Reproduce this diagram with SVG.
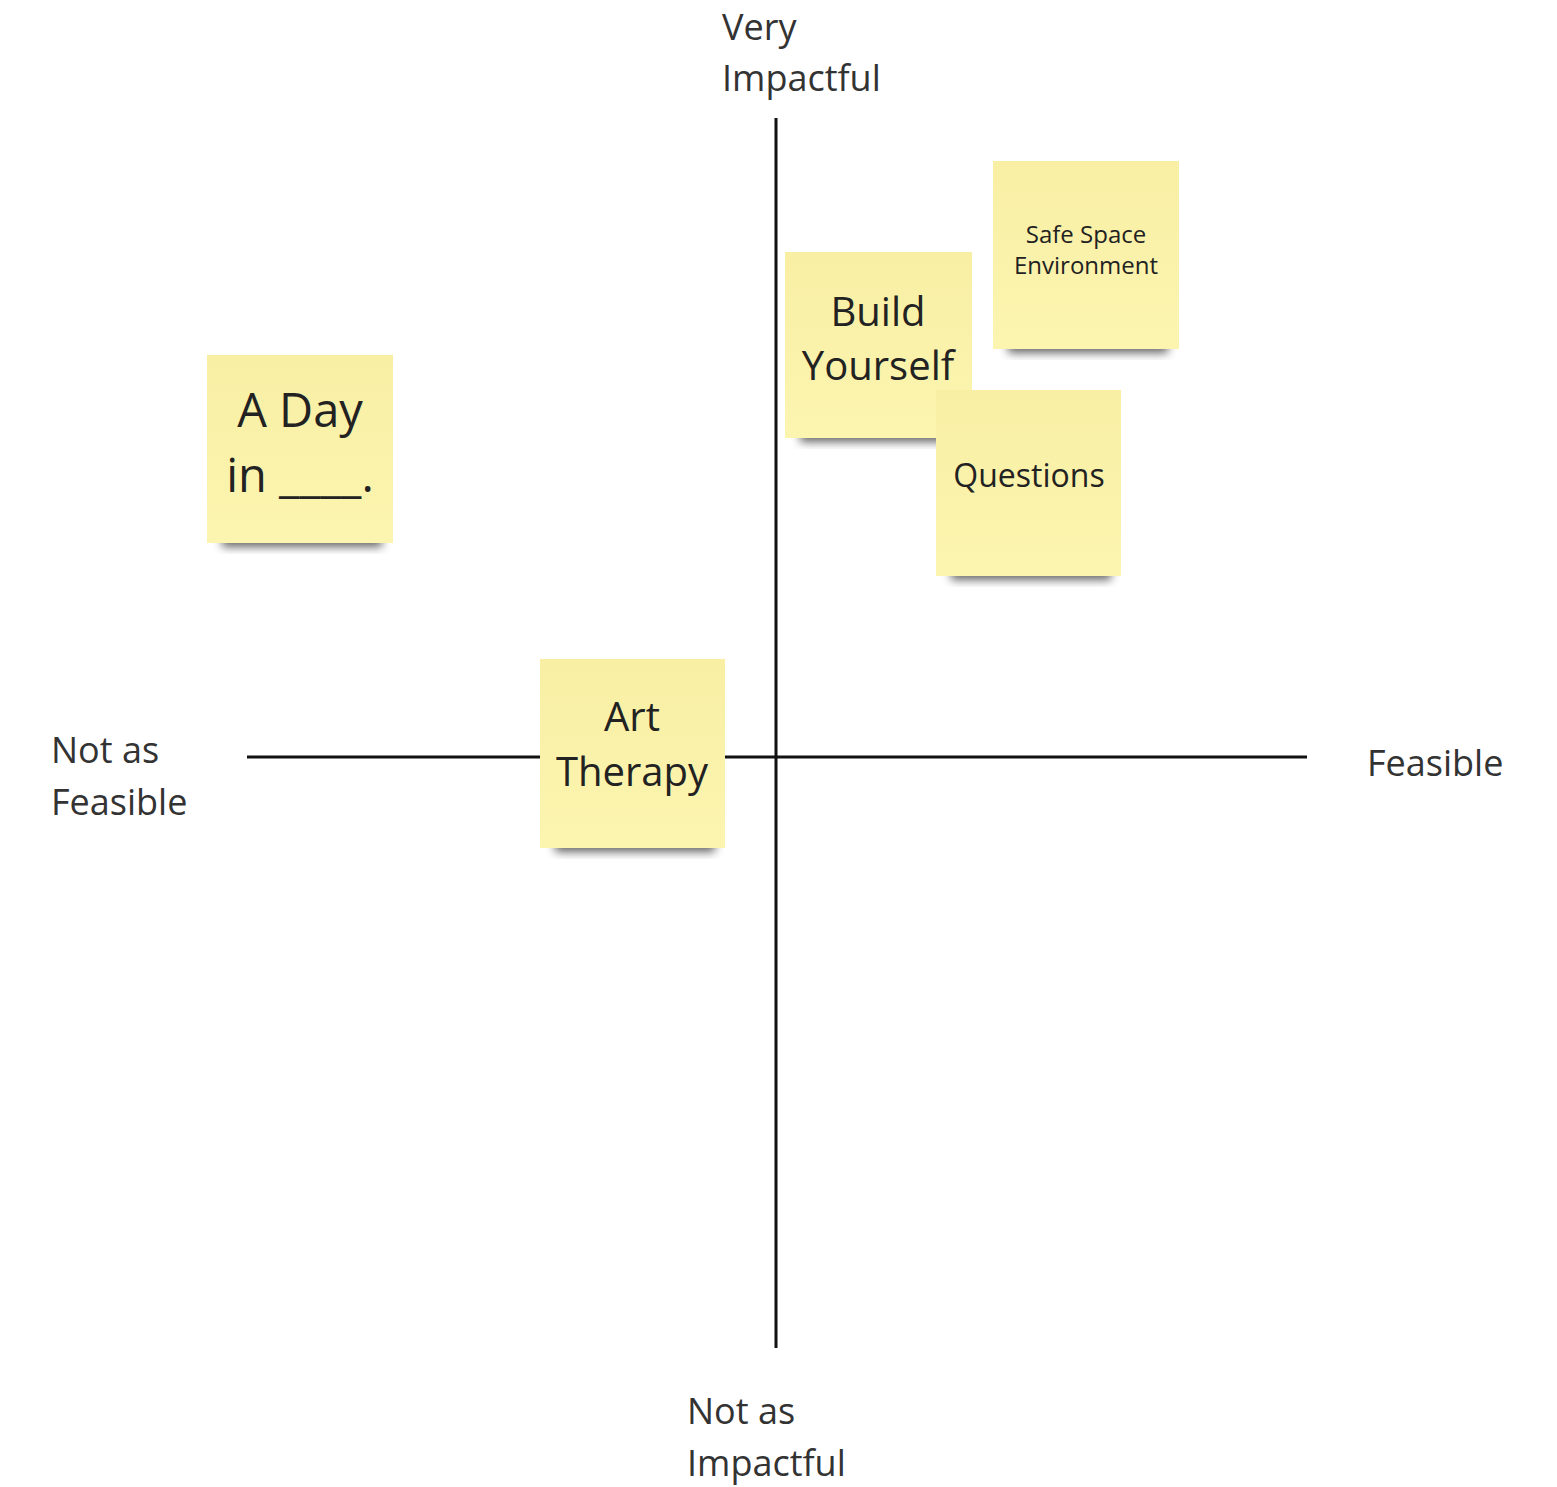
<svg xmlns="http://www.w3.org/2000/svg" width="1557" height="1487" viewBox="0 0 1557 1487">
<defs>
<filter id="sh" x="-20%" y="-50%" width="140%" height="200%"><feGaussianBlur stdDeviation="5"/></filter>
<linearGradient id="paper" x1="0" y1="0" x2="0" y2="1"><stop offset="0" stop-color="#f8efa4"/><stop offset="1" stop-color="#fcf5b0"/></linearGradient>
</defs>
<style>
.t{font-family:"Open Sans","Noto Sans","Liberation Sans",sans-serif;fill:#222;}
.lbl{font-size:36px;fill:#333;}
.note{fill:url(#paper);}
.shadow{fill:#000;opacity:0.6;filter:url(#sh);}
.axis{stroke:#111;stroke-width:3;fill:none;}
</style>
<rect width="1557" height="1487" fill="#fff"/>
<g id="connectors">
<line class="axis" x1="776" y1="118" x2="776" y2="1348"/>
<line class="axis" x1="247" y1="757" x2="1307" y2="757"/>
</g>
<g id="label-very-impactful"><text class="t lbl" x="722" y="40">Very</text><text class="t lbl" x="722" y="91">Impactful</text></g>
<g id="label-not-feasible"><text class="t lbl" x="51" y="763">Not as</text><text class="t lbl" x="51" y="815">Feasible</text></g>
<g id="label-feasible"><text class="t lbl" x="1367" y="776">Feasible</text></g>
<g id="label-not-impactful"><text class="t lbl" x="687" y="1424">Not as</text><text class="t lbl" x="687" y="1476">Impactful</text></g>
<g id="note-a-day">
<rect class="shadow" x="222" y="533" width="160" height="14"/>
<rect class="note" x="207" y="355" width="186" height="188"/>
<text class="t" x="300" y="427" font-size="47" text-anchor="middle">A Day</text>
<text class="t" x="300" y="492" font-size="47" text-anchor="middle">in ____.</text>
</g>
<g id="note-build-yourself">
<rect class="shadow" x="800" y="428" width="160" height="14"/>
<rect class="note" x="785" y="252" width="187" height="186"/>
<text class="t" x="878" y="326" font-size="40" text-anchor="middle">Build</text>
<text class="t" x="878" y="380" font-size="40" text-anchor="middle">Yourself</text>
</g>
<g id="note-safe-space">
<rect class="shadow" x="1008" y="339" width="160" height="14"/>
<rect class="note" x="993" y="161" width="186" height="188"/>
<text class="t" x="1086" y="243" font-size="24" text-anchor="middle">Safe Space</text>
<text class="t" x="1086" y="274" font-size="24" text-anchor="middle">Environment</text>
</g>
<g id="note-questions">
<rect class="shadow" x="951" y="566" width="160" height="14"/>
<rect class="note" x="936" y="390" width="185" height="186"/>
<text class="t" x="1029" y="487" font-size="32" text-anchor="middle">Questions</text>
</g>
<g id="note-art-therapy">
<rect class="shadow" x="555" y="838" width="160" height="14"/>
<rect class="note" x="540" y="659" width="185" height="189"/>
<text class="t" x="632" y="731" font-size="40" text-anchor="middle">Art</text>
<text class="t" x="632" y="786" font-size="40" text-anchor="middle">Therapy</text>
</g>
</svg>
